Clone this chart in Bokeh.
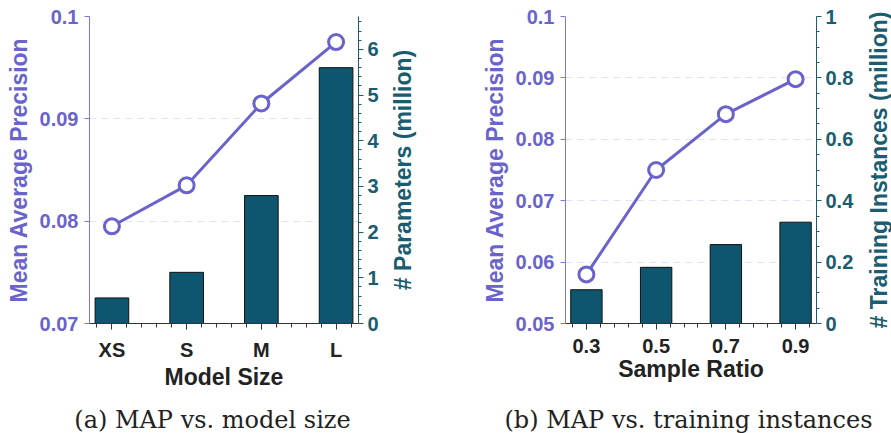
from bokeh.plotting import figure
from bokeh.models import Range1d, LinearAxis, FixedTicker
from bokeh.core.properties import value
from bokeh.layouts import row, column
from bokeh.embed import file_html
from bokeh.resources import INLINE

# (a) model size sweep
size_labels = ["XS", "S", "M", "L"]
map_by_size = [0.0795, 0.0835, 0.0915, 0.0975]
params_million = [0.56, 1.12, 2.8, 5.6]

# (b) sample ratio sweep
ratio_labels = ["0.3", "0.5", "0.7", "0.9"]
map_by_ratio = [0.0580, 0.0750, 0.0841, 0.0898]
instances_million = [0.110, 0.183, 0.257, 0.330]

captions = ["(a) MAP vs. model size", "(b) MAP vs. training instances"]
right_titles = ["# Parameters (million)", "# Training Instances (million)"]

PURPLE = "#6a63cc"
PURPLE_AXIS = "#7d78d6"
TEAL = "#1a5c70"
BAR = "#0e5670"
DARK = "#222222"
SANS = "Liberation Sans"
CHART_H = 400


def frange(start, stop, step):
    out, v = [], start
    while v <= stop + 1e-9:
        out.append(round(v, 6))
        v += step
    return out


def blank(width, height, xr, yr, bottom=0):
    f = figure(width=width, height=height, output_backend="svg", toolbar_location=None,
               x_range=Range1d(*xr), y_range=Range1d(*yr), title=None,
               x_axis_type=None, y_axis_type=None,
               min_border_left=0, min_border_right=0, min_border_top=0,
               min_border_bottom=bottom)
    f.outline_line_color = None
    f.grid.visible = False
    f.background_fill_color = "white"
    f.border_fill_color = "white"
    return f


def panel(width, borders, labels, map_vals, bar_vals, left_rng, left_ticks,
          right_rng, right_ticks, right_minor, right_fmt, xlabel):
    left, right, top, bottom = borders
    p = figure(width=width, height=CHART_H, output_backend="svg", toolbar_location=None,
               x_range=Range1d(-0.3, 3.3), y_range=Range1d(*left_rng), title=None,
               min_border_left=left, min_border_right=right,
               min_border_top=top, min_border_bottom=bottom)
    p.extra_y_ranges = {"r": Range1d(*right_rng)}
    p.outline_line_color = None
    p.background_fill_color = "white"
    p.border_fill_color = "white"

    xs = list(range(len(labels)))
    p.vbar(x=xs, top=bar_vals, width=0.45, bottom=0, y_range_name="r",
           fill_color=BAR, line_color="#111111", line_width=1)
    p.line(xs, map_vals, line_color=PURPLE, line_width=3)
    p.scatter(xs, map_vals, size=15, marker="circle", fill_color="white",
              line_color=PURPLE, line_width=3)

    # bottom axis
    xa = p.xaxis[0]
    minors = [v for v in frange(-0.2, 3.2, 0.2) if abs(v - round(v)) > 1e-6]
    xa.ticker = FixedTicker(ticks=xs, minor_ticks=minors)
    xa.major_label_overrides = {i: s for i, s in enumerate(labels)}
    xa.axis_label = xlabel
    xa.axis_line_color = "#333333"
    xa.major_tick_line_color = "#333333"
    xa.minor_tick_line_color = "#333333"
    xa.major_tick_out = 6
    xa.major_tick_in = 0
    xa.minor_tick_out = 4
    xa.minor_tick_in = 0
    xa.major_label_text_font = SANS
    xa.major_label_text_font_style = "bold"
    xa.major_label_text_font_size = "20px"
    xa.major_label_text_color = DARK
    xa.major_label_standoff = 9
    xa.axis_label_text_font = SANS
    xa.axis_label_text_font_style = "bold"
    xa.axis_label_text_font_size = "23px"
    xa.axis_label_text_color = DARK
    xa.axis_label_standoff = 0

    # left axis (MAP)
    ya = p.yaxis[0]
    ya.ticker = FixedTicker(ticks=left_ticks)
    ya.major_label_overrides = {t: "%g" % t for t in left_ticks}
    ya.axis_label = "Mean Average Precision"
    ya.axis_line_color = PURPLE_AXIS
    ya.major_tick_line_color = PURPLE_AXIS
    ya.major_tick_out = 5
    ya.major_tick_in = 0
    ya.minor_tick_line_color = None
    ya.major_label_text_font = SANS
    ya.major_label_text_font_style = "bold"
    ya.major_label_text_font_size = "20px"
    ya.major_label_text_color = PURPLE
    ya.major_label_standoff = 6
    ya.axis_label_text_font = SANS
    ya.axis_label_text_font_style = "bold"
    ya.axis_label_text_font_size = "23px"
    ya.axis_label_text_color = PURPLE
    ya.axis_label_standoff = 5

    p.xgrid.visible = False
    p.ygrid.ticker = FixedTicker(ticks=left_ticks)
    p.ygrid.grid_line_color = "#e2e2f4"
    p.ygrid.grid_line_dash = "7 5"
    p.ygrid.grid_line_width = 1

    # right axis (bar quantity)
    ra = LinearAxis(y_range_name="r")
    ra.ticker = FixedTicker(ticks=right_ticks, minor_ticks=right_minor)
    ra.major_label_overrides = {t: right_fmt(t) for t in right_ticks}
    ra.axis_line_color = TEAL
    ra.major_tick_line_color = TEAL
    ra.minor_tick_line_color = TEAL
    ra.major_tick_out = 5
    ra.major_tick_in = 0
    ra.minor_tick_out = 3
    ra.minor_tick_in = 0
    ra.major_label_text_font = SANS
    ra.major_label_text_font_style = "bold"
    ra.major_label_text_font_size = "20px"
    ra.major_label_text_color = TEAL
    ra.major_label_standoff = 4
    p.add_layout(ra, "right")
    return p


def side_title(width, text, bottom_pad):
    # a bare axis whose only content is its title, reading bottom-to-top
    f = blank(width, CHART_H, (0, 1), (0, 1), bottom=bottom_pad)
    ax = LinearAxis(axis_label=text, ticker=FixedTicker(ticks=[]))
    ax.axis_line_color = None
    ax.major_tick_line_color = None
    ax.minor_tick_line_color = None
    ax.major_tick_out = 0
    ax.major_tick_in = 0
    ax.major_label_text_font_size = "0px"
    ax.major_label_standoff = 0
    ax.axis_label_standoff = 0
    ax.axis_label_text_font = SANS
    ax.axis_label_text_font_style = "bold"
    ax.axis_label_text_font_size = "23px"
    ax.axis_label_text_color = TEAL
    f.add_layout(ax, "left")
    return f


pa = panel(386, (89, 28, 16, 73), size_labels, map_by_size, params_million,
           (0.07, 0.1), [0.07, 0.08, 0.09, 0.1],
           (0, 6.72), [0, 1, 2, 3, 4, 5, 6],
           [v for v in frange(0.2, 6.6, 0.2) if abs(v - round(v)) > 1e-6],
           lambda t: str(int(t)),
           "Model Size")
la = side_title(34, right_titles[0], 58)

pb = panel(442, (145, 46, 6, 77), ratio_labels, map_by_ratio, instances_million,
           (0.05, 0.1), [0.05, 0.06, 0.07, 0.08, 0.09, 0.1],
           (0, 1), [0, 0.2, 0.4, 0.6, 0.8, 1.0],
           [v for v in frange(0.05, 0.95, 0.05) if abs(v / 0.2 - round(v / 0.2)) > 1e-6],
           lambda t: "%g" % t,
           "Sample Ratio")
lb = side_title(29, right_titles[1], 72)

# caption strip under both panels
cap_h = 433 - CHART_H
cap = blank(891, cap_h, (0, 891), (0, cap_h))
cap.text(x=[212, 688], y=[cap_h - 19, cap_h - 19], text=captions,
         text_align="center", text_baseline="middle",
         text_font=value("DejaVu Serif"), text_font_size="24px", text_color=DARK)

layout = column(row(pa, la, pb, lb, spacing=0), cap, spacing=0)
open("out.html", "w").write(file_html(layout, INLINE))
